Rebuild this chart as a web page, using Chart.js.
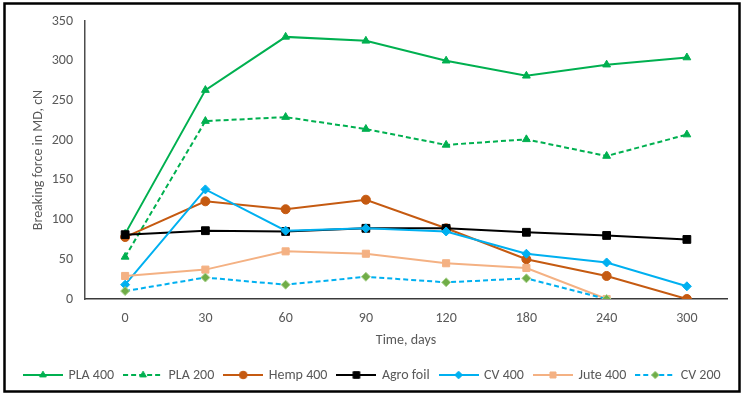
<!DOCTYPE html>
<html>
<head>
<meta charset="utf-8">
<script src="https://cdn.jsdelivr.net/npm/chart.js@4"></script>
<style>
  html, body { margin: 0; padding: 0; background: #fff; }
  #wrap { width: 745px; height: 398px; position: relative; }
</style>
</head>
<body>
<div id="wrap"><canvas id="chart" width="745" height="398"></canvas></div>
<script>
const days = ['0', '30', '60', '90', '120', '180', '240', '300'];
const yTicks = [0, 50, 100, 150, 200, 250, 300, 350];

const pla400 = [82, 263, 330, 325, 300, 281, 295, 304];
const pla200 = [53, 224, 229, 214, 194, 201, 180, 207];
const hemp400 = [78, 123, 113, 125, 89, 50, 29, 0];
const agroFoil = [81, 86, 85, 89, 89, 84, 80, 75];
const cv400 = [18, 138, 86, 89, 85, 57, 46, 16];
const jute400 = [29, 37, 60, 57, 45, 39, 0, null];
const cv200 = [10, 27, 18, 28, 21, 26, 0, null];

const FONT = 'Carlito, "Liberation Sans Narrow", Lato, sans-serif';
const GREY = '#595959';

function series(label, data, color, style, extra) {
  return Object.assign({
    label,
    data,
    borderColor: color,
    backgroundColor: color,
    pointBackgroundColor: color,
    pointBorderColor: color,
    pointStyle: style,
    pointRadius: 4.5,
    pointBorderWidth: 1,
    borderWidth: 2,
    tension: 0,
    spanGaps: false
  }, extra || {});
}

const datasets = [
  series('PLA 400', pla400, '#00B050', 'triangle'),
  series('PLA 200', pla200, '#00B050', 'triangle', { borderDash: [5, 3] }),
  series('Hemp 400', hemp400, '#C55A11', 'circle'),
  series('Agro foil', agroFoil, '#000000', 'rect', { pointRadius: 5.5 }),
  series('CV 400', cv400, '#00B0F0', 'rectRot'),
  series('Jute 400', jute400, '#F4B183', 'rect', { pointRadius: 5 }),
  series('CV 200', cv200, '#00B0F0', 'rectRot', {
    borderDash: [5, 3],
    pointBackgroundColor: '#70AD47',
    pointBorderColor: '#A9D18E'
  })
];
// later series sit on top, like the original
datasets.forEach((ds, i) => { ds.order = datasets.length - i; });

function legendSwatch(ds) {
  const c = document.createElement('canvas');
  c.width = 40;
  c.height = 14;
  const ctx = c.getContext('2d');
  ctx.strokeStyle = ds.borderColor;
  ctx.lineWidth = 2;
  ctx.setLineDash(ds.borderDash || []);
  ctx.beginPath();
  ctx.moveTo(0, 7);
  ctx.lineTo(40, 7);
  ctx.stroke();
  ctx.setLineDash([]);
  ctx.fillStyle = ds.pointBackgroundColor;
  ctx.strokeStyle = ds.pointBorderColor;
  ctx.lineWidth = 1;
  Chart.helpers.drawPoint(ctx, { pointStyle: ds.pointStyle, radius: ds.pointRadius * 0.85, rotation: 0, borderWidth: 1 }, 20, 7);
  return c;
}

const frame = {
  id: 'frame',
  afterLayout(chart) {
    // nudge the legend row so it sits centred in the frame
    chart.legend.left += 9;
    chart.legend.right += 9;
  },
  afterDraw(chart) {
    const ctx = chart.ctx;
    ctx.save();
    ctx.strokeStyle = '#000';
    ctx.lineWidth = 2.5;
    ctx.strokeRect(4.5, 3.5, 735, 388);
    ctx.restore();
  }
};

new Chart(document.getElementById('chart'), {
  type: 'line',
  data: { labels: days, datasets },
  options: {
    responsive: false,
    devicePixelRatio: 1,
    animation: false,
    layout: { padding: { top: 21, right: 18, left: 0, bottom: 6 } },
    plugins: {
      tooltip: { enabled: false },
      legend: {
        position: 'bottom',
        labels: {
          font: { family: FONT, size: 14 },
          color: GREY,
          padding: 10.5,
          usePointStyle: true,
          pointStyleWidth: 37,
          boxHeight: 14,
          generateLabels(chart) {
            return chart.data.datasets.map((ds, i) => ({
              text: ds.label,
              datasetIndex: i,
              pointStyle: legendSwatch(ds),
              fontColor: GREY,
              fillStyle: ds.borderColor,
              strokeStyle: ds.borderColor,
              lineWidth: 0,
              hidden: false
            }));
          }
        }
      }
    },
    scales: {
      x: {
        offset: true,
        grid: { display: false, drawTicks: false, offset: true },
        border: { display: true, color: '#3a3a3a', width: 1.5 },
        ticks: { font: { family: FONT, size: 14 }, color: GREY, padding: 11 },
        title: { display: true, text: 'Time, days', font: { family: FONT, size: 14 }, color: GREY, padding: { top: 4, bottom: 9.1 } },
        afterFit(scale) { scale.height = 58.5; }
      },
      y: {
        min: 0,
        max: 350,
        afterBuildTicks(scale) { scale.ticks = yTicks.map(v => ({ value: v })); },
        grid: { display: false, drawTicks: false },
        border: { display: true, color: '#4d4d4d', width: 1.5 },
        ticks: { font: { family: FONT, size: 14 }, color: GREY, padding: 12 },
        title: { display: true, text: 'Breaking force in MD, cN', font: { family: FONT, size: 14 }, color: GREY, padding: { top: 29.6, bottom: 0 } },
        afterFit(scale) { scale.width = 85; }
      }
    }
  },
  plugins: [frame]
});
</script>
</body>
</html>
